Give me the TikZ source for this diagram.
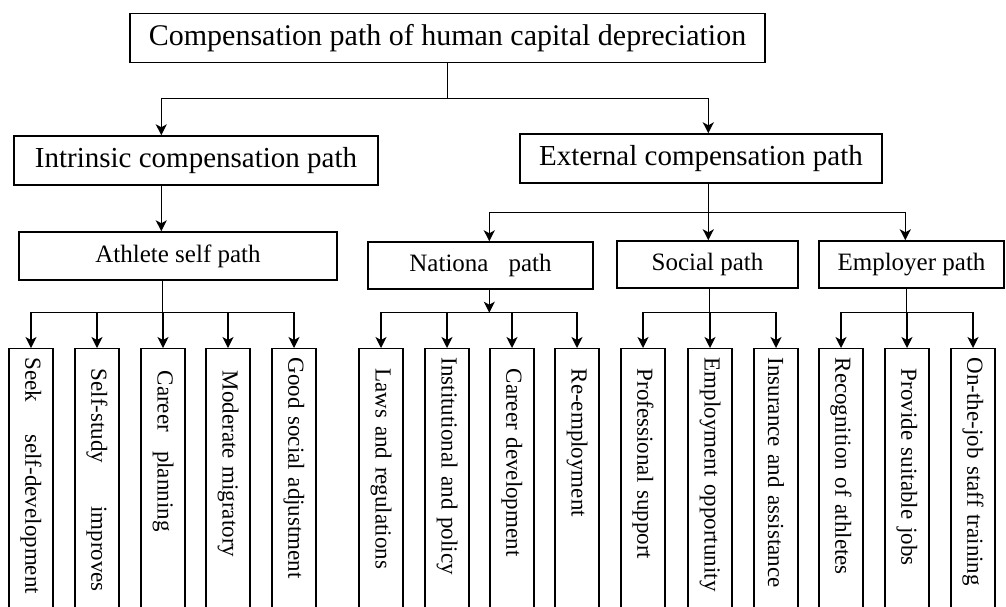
\documentclass[tikz,border=0pt]{standalone}
\usepackage{fontspec}
\setmainfont{Liberation Serif}
\usetikzlibrary{arrows.meta}

\tikzset{
  topbox/.style={draw, font=\fontsize{29}{32}\selectfont, inner sep=0pt, minimum height=49pt},
  midbox/.style={draw, font=\fontsize{25}{28}\selectfont, inner sep=0pt, minimum height=47pt},
  leaf/.style={draw, rotate=-90, anchor=west, font=\fontsize{23}{26}\selectfont,
    text width=252pt, inner xsep=9pt, inner ysep=0pt, align=left, minimum height=44pt},
  arr/.style={-{Stealth[length=11pt,width=11pt,inset=3pt]}}
}

\begin{document}
\begin{tikzpicture}[x=1pt, y=-1pt, line width=1.4pt]
  \useasboundingbox (0,0) rectangle (1006,606);

  % Define nodes
  \node[topbox, minimum width=635pt, font=\fontsize{30}{33}\selectfont] (root) at (447.5,38) {Compensation path of human capital depreciation};
  \node[topbox, minimum width=364pt] (intr) at (196,160.5) {Intrinsic compensation path};
  \node[topbox, minimum width=362pt] (ext) at (701,158.5) {External compensation path};
  \node[midbox, minimum width=318pt, minimum height=48pt] (ath) at (178,256) {Athlete self path};
  \node[midbox, minimum width=225pt] (nat) at (480.5,265.5) {Nationa\hspace{20pt}path};
  \node[midbox, minimum width=181pt] (soc) at (707.5,264.5) {Social path};
  \node[midbox, minimum width=185pt] (emp) at (911.5,264.5) {Employer path};

  % Leaves (rotated, so .west is the top edge)
  \node[leaf] (a1) at (31,348) {Seek\hspace{32pt}self-development};
  \node[leaf] (a2) at (97,348) {\hspace*{11pt}Self-study\hspace{43pt}improves};
  \node[leaf] (a3) at (163,348) {\hspace*{13pt}Career\hspace{19pt}planning};
  \node[leaf] (a4) at (228,348) {\hspace*{13pt}Moderate migratory};
  \node[leaf] (a5) at (294,348) {Good social adjustment};
  \node[leaf] (b1) at (381,348) {\hspace*{11pt}Laws and regulations};
  \node[leaf] (b2) at (447,348) {Institutional and policy};
  \node[leaf] (b3) at (512,348) {\hspace*{11pt}Career development};
  \node[leaf] (b4) at (577,348) {\hspace*{11pt}Re-employment};
  \node[leaf] (c1) at (643,348) {\hspace*{11pt}Professional support};
  \node[leaf] (c2) at (710,348) {Employment opportunity};
  \node[leaf] (c3) at (776,348) {Insurance and assistance};
  \node[leaf] (d1) at (841,348) {Recognition of athletes};
  \node[leaf] (d2) at (907,348) {\hspace*{11pt}Provide suitable jobs};
  \node[leaf] (d3) at (973,348) {On-the-job staff training};

  % Draw edges
  \draw (root.south) -- ++(0,35) coordinate (j0);
  \draw[arr] (j0) -| ([xshift=148pt]intr.north west);
  \draw[arr] (j0) -| ([xshift=189pt]ext.north west);
  \draw[arr] ([xshift=148pt]intr.south west) -- ([xshift=143pt]ath.north west);

  \draw ([xshift=189pt]ext.south west) -- ++(0,29) coordinate (j1);
  \draw[arr] (j1) -| ([xshift=122pt]nat.north west);
  \draw[arr] (j1) -- (j1 |- soc.north);
  \draw[arr] (j1) -| ([xshift=87pt]emp.north west);

  \draw ([xshift=144pt]ath.south west) -- ++(0,32) coordinate (j2);
  \draw[arr] (j2) -| (a1.west);
  \draw[arr] (j2) -| (a2.west);
  \draw[arr] (j2) -| (a3.west);
  \draw[arr] (j2) -| (a4.west);
  \draw[arr] (j2) -| (a5.west);

  \draw[arr] ([xshift=122pt]nat.south west) -- ++(0,23) coordinate (j3);
  \draw[arr] (j3) -| (b1.west);
  \draw[arr] (j3) -| (b2.west);
  \draw[arr] (j3) -| (b3.west);
  \draw[arr] (j3) -| (b4.west);

  \draw ([xshift=93pt]soc.south west) -- ++(0,24) coordinate (j4);
  \draw[arr] (j4) -| (c1.west);
  \draw[arr] (j4) -| (c2.west);
  \draw[arr] (j4) -| (c3.west);

  \draw ([xshift=88pt]emp.south west) -- ++(0,24) coordinate (j5);
  \draw[arr] (j5) -| (d1.west);
  \draw[arr] (j5) -| (d2.west);
  \draw[arr] (j5) -| (d3.west);
\end{tikzpicture}
\end{document}
